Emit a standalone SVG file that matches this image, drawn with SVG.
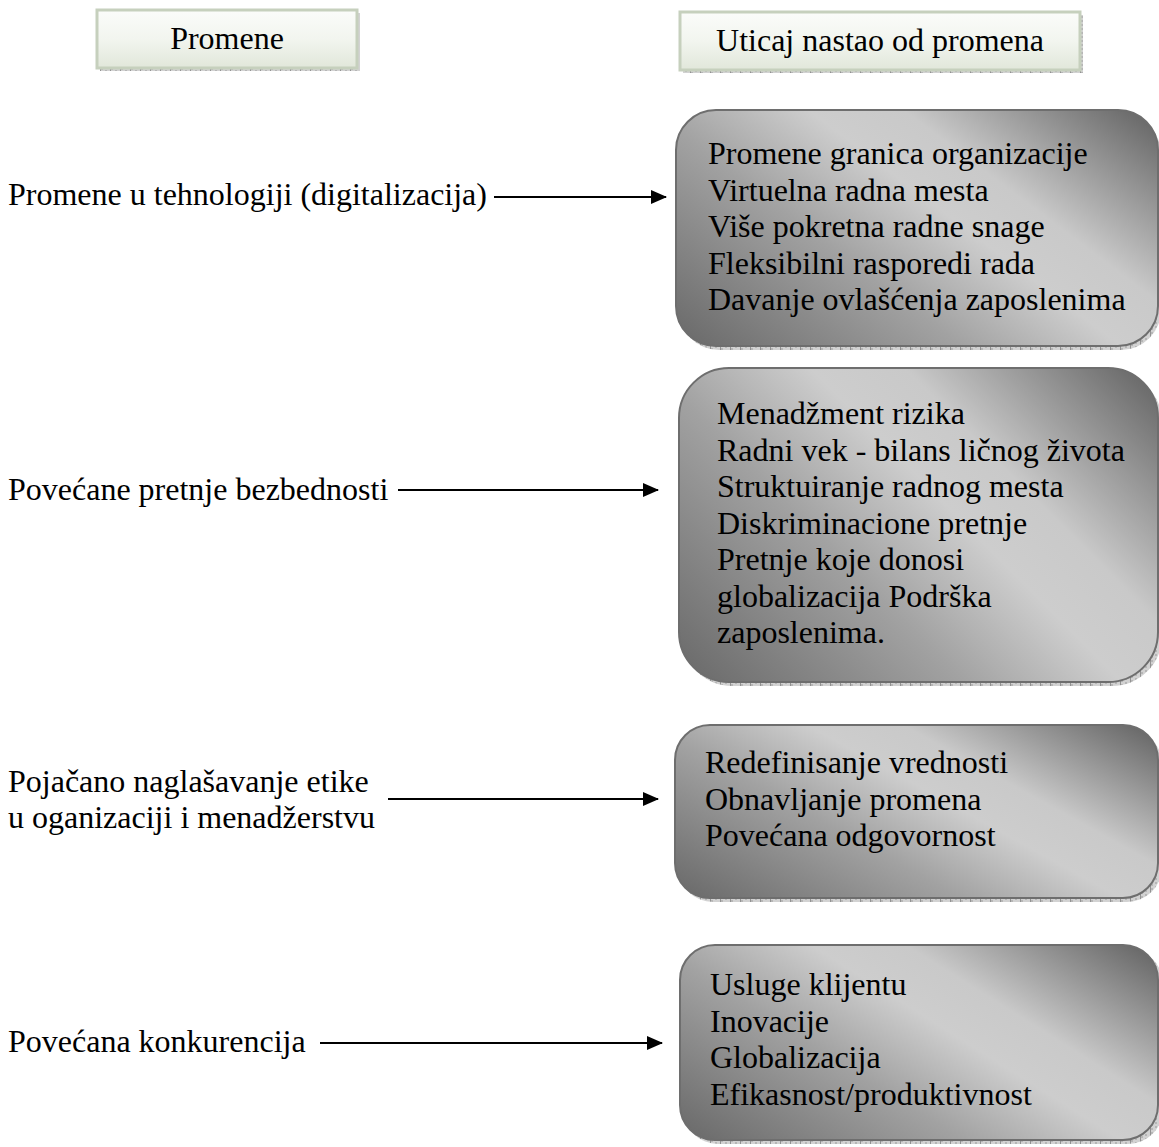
<svg xmlns="http://www.w3.org/2000/svg" width="1159" height="1147" viewBox="0 0 1159 1147">
  <style>
    text { font-family: "Liberation Serif", "Times New Roman", serif; font-size: 32px; fill: #000; }
    .hdr { fill: url(#hdrFill); stroke: #c6d0bd; stroke-width: 3; }
    .shadow { fill: url(#stripe); }
    .card { fill: url(#cardFill); stroke: #6e6e6e; stroke-width: 2; }
    .conn { stroke: #000; stroke-width: 2; fill: none; marker-end: url(#arrow); }
  </style>
  <defs>
    <linearGradient id="hdrFill" x1="0" y1="0" x2="0" y2="1">
      <stop offset="0" stop-color="#fbfcfa"/>
      <stop offset="0.5" stop-color="#f2f5ef"/>
      <stop offset="1" stop-color="#e1e7da"/>
    </linearGradient>
    <linearGradient id="cardFill" x1="-0.028" y1="0.957" x2="1.132" y2="0.203">
      <stop offset="0" stop-color="#686868"/>
      <stop offset="0.36" stop-color="#a2a2a2"/>
      <stop offset="0.56" stop-color="#cdcdcd"/>
      <stop offset="0.68" stop-color="#c9c9c9"/>
      <stop offset="1" stop-color="#606060"/>
    </linearGradient>
    <pattern id="stripe" width="10" height="4" patternUnits="userSpaceOnUse">
      <rect width="10" height="4" fill="#d2d2d2"/>
      <rect x="1" y="0" width="2" height="2" fill="#b6b6b6"/>
      <rect x="5" y="2" width="2" height="2" fill="#b6b6b6"/>
      <rect x="0" y="0" width="1" height="4" fill="#929292"/>
    </pattern>
    <marker id="arrow" markerWidth="16" markerHeight="14" refX="15" refY="7" orient="auto" markerUnits="userSpaceOnUse">
      <path d="M0,0 L16,7 L0,14 Z" fill="#000"/>
    </marker>
  </defs>

  <!-- column headings -->
  <g id="head-changes">
    <rect class="shadow" x="100" y="13" width="260" height="58"/>
    <rect class="hdr" x="97" y="10" width="260" height="58"/>
    <text x="227" y="49" text-anchor="middle">Promene</text>
  </g>
  <g id="head-impact">
    <rect class="shadow" x="683" y="15" width="400" height="58"/>
    <rect class="hdr" x="680" y="12" width="400" height="58"/>
    <text x="880" y="51" text-anchor="middle">Uticaj nastao od promena</text>
  </g>

  <!-- causes (left column) -->
  <g id="cause-tech">
    <text x="8" y="205">Promene u tehnologiji (digitalizacija)</text>
  </g>
  <g id="cause-security">
    <text x="8" y="500">Povećane pretnje bezbednosti</text>
  </g>
  <g id="cause-ethics">
    <text x="8" y="792">Pojačano naglašavanje etike</text>
    <text x="8" y="828">u oganizaciji i menadžerstvu</text>
  </g>
  <g id="cause-competition">
    <text x="8" y="1052">Povećana konkurencija</text>
  </g>

  <!-- effects (right column) -->
  <g id="effect-tech">
    <rect class="shadow" x="679" y="114" width="482" height="236" rx="40"/>
    <rect class="card" x="676" y="110" width="482" height="236" rx="40"/>
    <text x="708" y="164">Promene granica organizacije</text>
    <text x="708" y="200.5">Virtuelna radna mesta</text>
    <text x="708" y="237">Više pokretna radne snage</text>
    <text x="708" y="273.5">Fleksibilni rasporedi rada</text>
    <text x="708" y="310">Davanje ovlašćenja zaposlenima</text>
  </g>
  <g id="effect-security">
    <rect class="shadow" x="682" y="372" width="480" height="314" rx="50"/>
    <rect class="card" x="679" y="368" width="479" height="314" rx="50"/>
    <text x="717" y="424">Menadžment rizika</text>
    <text x="717" y="460.5">Radni vek - bilans ličnog života</text>
    <text x="717" y="497">Struktuiranje radnog mesta</text>
    <text x="717" y="533.5">Diskriminacione pretnje</text>
    <text x="717" y="570">Pretnje koje donosi</text>
    <text x="717" y="606.5">globalizacija Podrška</text>
    <text x="717" y="643">zaposlenima.</text>
  </g>
  <g id="effect-ethics">
    <rect class="shadow" x="678" y="729" width="484" height="173" rx="35"/>
    <rect class="card" x="675" y="725" width="483" height="173" rx="35"/>
    <text x="705" y="773">Redefinisanje vrednosti</text>
    <text x="705" y="809.5">Obnavljanje promena</text>
    <text x="705" y="846">Povećana odgovornost</text>
  </g>
  <g id="effect-competition">
    <rect class="shadow" x="683" y="949" width="480" height="195" rx="35"/>
    <rect class="card" x="680" y="945" width="478" height="195" rx="35"/>
    <text x="710" y="995">Usluge klijentu</text>
    <text x="710" y="1031.5">Inovacije</text>
    <text x="710" y="1068">Globalizacija</text>
    <text x="710" y="1104.5">Efikasnost/produktivnost</text>
  </g>

  <!-- connectors -->
  <g id="connectors">
    <line class="conn" x1="494" y1="197" x2="666" y2="197"/>
    <line class="conn" x1="398" y1="490" x2="658" y2="490"/>
    <line class="conn" x1="388" y1="799" x2="658" y2="799"/>
    <line class="conn" x1="320" y1="1043" x2="662" y2="1043"/>
  </g>
</svg>
